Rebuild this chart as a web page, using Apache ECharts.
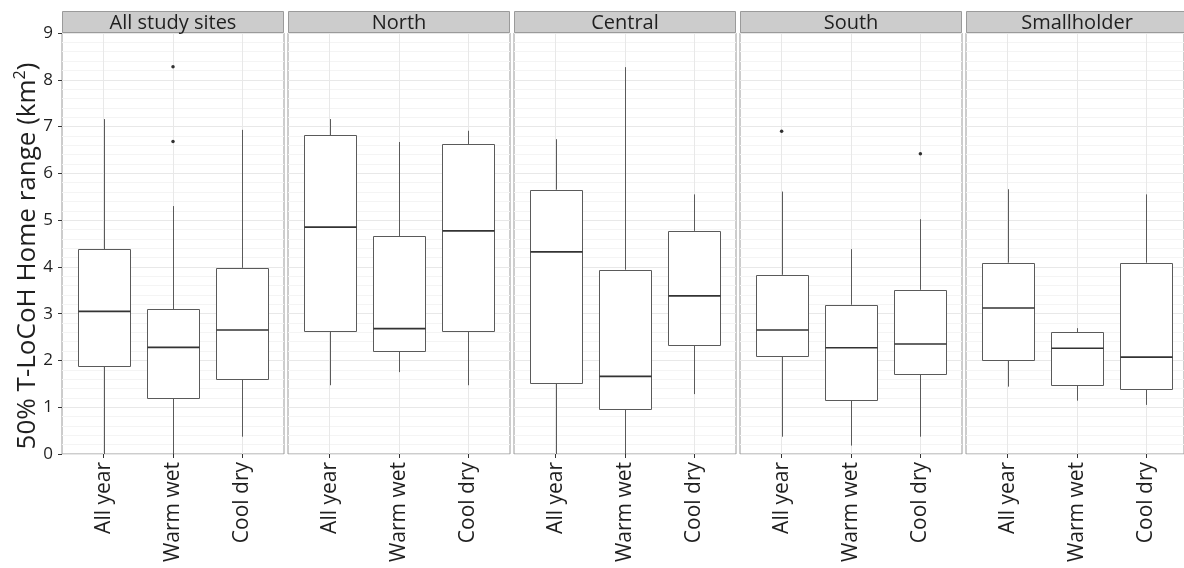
<!DOCTYPE html>
<html>
<head>
<meta charset="utf-8">
<script src="https://cdn.jsdelivr.net/npm/echarts@6/dist/echarts.min.js"></script>
<style>
  html, body { margin: 0; padding: 0; background: #fff; }
  #chart { width: 1184px; height: 568px; }
</style>
</head>
<body>
<div id="chart"></div>
<script>
// Seasons on the x axis of every panel and the study areas (one panel each)
const seasons = ['All year', 'Warm wet', 'Cool dry'];
const sites = ['All study sites', 'North', 'Central', 'South', 'Smallholder'];

// Box statistics per season: [lower whisker, Q1, median, Q3, upper whisker] (km²)
const allSites    = [[0.00, 1.88, 3.05, 4.38, 7.16], [0.00, 1.19, 2.28, 3.10, 5.30], [0.37, 1.60, 2.65, 3.98, 6.93]];
const north       = [[1.47, 2.62, 4.85, 6.81, 7.16], [1.75, 2.20, 2.68, 4.65, 6.67], [1.47, 2.62, 4.77, 6.62, 6.91]];
const central     = [[0.00, 1.51, 4.32, 5.65, 6.73], [0.00, 0.96, 1.66, 3.94, 8.27], [1.28, 2.32, 3.38, 4.77, 5.55]];
const south       = [[0.37, 2.09, 2.65, 3.83, 5.61], [0.18, 1.15, 2.27, 3.19, 4.38], [0.37, 1.71, 2.35, 3.51, 5.02]];
const smallholder = [[1.44, 2.00, 3.12, 4.09, 5.66], [1.14, 1.47, 2.26, 2.60, 2.69], [1.05, 1.38, 2.07, 4.09, 5.55]];

// Outlying home ranges: [season index, value]
const allSitesOutliers    = [[1, 8.28], [1, 6.68]];
const northOutliers       = [];
const centralOutliers     = [];
const southOutliers       = [[0, 6.90], [2, 6.42]];
const smallholderOutliers = [];

const yMin = 0, yMax = 9, yStep = 1;

const boxStats = [allSites, north, central, south, smallholder];
const outliers = [allSitesOutliers, northOutliers, centralOutliers, southOutliers, smallholderOutliers];

// Panel geometry (pixels)
const FONT = '"Open Sans", "Noto Sans", sans-serif';
const TEXT = '#1f1f1f';
const PANEL_LEFT = 62, PANEL_STEP = 226, PANEL_W = 222;
const PANEL_TOP = 33, PANEL_H = 421;
const STRIP_TOP = 11, STRIP_H = 22;
const UNIT = PANEL_W / 3.2;            // one category step, with 0.6 step padding each side

const grids = [], xAxes = [], yAxes = [], series = [], graphics = [];

function renderBox(params, api) {
  const x = api.value(0);
  const lo = api.coord([x, api.value(1)]);
  const q1 = api.coord([x, api.value(2)]);
  const md = api.coord([x, api.value(3)]);
  const q3 = api.coord([x, api.value(4)]);
  const hi = api.coord([x, api.value(5)]);
  const w = api.size([1, 0])[0] * 0.75;
  const cx = Math.round(lo[0]) + 0.5;
  const left = Math.round(cx - w / 2) + 0.5;
  const right = Math.round(cx + w / 2) - 0.5;
  const line = '#5a5a5a';
  return {
    type: 'group',
    children: [
      { type: 'line', shape: { x1: cx, y1: hi[1], x2: cx, y2: q3[1] }, style: { stroke: line, lineWidth: 1 } },
      { type: 'line', shape: { x1: cx, y1: q1[1], x2: cx, y2: lo[1] }, style: { stroke: line, lineWidth: 1 } },
      { type: 'rect', shape: { x: left, y: Math.round(q3[1]) + 0.5, width: right - left, height: Math.round(q1[1]) - Math.round(q3[1]) },
        style: { fill: '#fff', stroke: line, lineWidth: 1 } },
      { type: 'line', shape: { x1: left, y1: md[1], x2: right, y2: md[1] }, style: { stroke: '#333', lineWidth: 1.6 } }
    ]
  };
}

sites.forEach((site, i) => {
  const left = PANEL_LEFT + i * PANEL_STEP;
  const bg = 2 * i, dg = 2 * i + 1;

  // Panel frame with the horizontal grid lines
  grids.push({ left: left, top: PANEL_TOP, width: PANEL_W, height: PANEL_H, show: true,
               borderColor: '#9a9a9a', borderWidth: 1, backgroundColor: '#fff', z: 0 });
  xAxes.push({ gridIndex: bg, type: 'value', min: 0, max: 1, show: false });
  yAxes.push({
    gridIndex: bg, type: 'value', min: yMin, max: yMax, interval: yStep,
    axisLine: { show: false },
    axisTick: { show: i === 0, length: 4, lineStyle: { color: '#333' } },
    axisLabel: { show: i === 0, fontSize: 17, fontFamily: FONT, color: TEXT, margin: 9 },
    splitLine: { show: true, lineStyle: { color: '#e8e8e8', width: 1 } },
    minorTick: { show: false, splitNumber: 5 },
    minorSplitLine: { show: true, lineStyle: { color: '#f4f4f4', width: 1 } }
  });

  // Season axis, spanning the category centres
  grids.push({ left: left + 0.6 * UNIT, top: PANEL_TOP, width: 2 * UNIT, height: PANEL_H, show: false, z: 1 });
  xAxes.push({
    gridIndex: dg, type: 'category', data: seasons, boundaryGap: false,
    axisLine: { show: false },
    axisTick: { show: true, length: 4, lineStyle: { color: '#333' } },
    axisLabel: { rotate: 90, fontSize: 21, fontFamily: FONT, color: TEXT, margin: 8, interval: 0 },
    splitLine: { show: true, lineStyle: { color: '#e8e8e8', width: 1 } }
  });
  yAxes.push({ gridIndex: dg, type: 'value', min: yMin, max: yMax, show: false });

  series.push({
    type: 'custom', xAxisIndex: dg, yAxisIndex: dg, clip: false, z: 3,
    renderItem: renderBox,
    encode: { x: 0, y: [1, 2, 3, 4, 5] },
    data: boxStats[i].map((s, k) => [k].concat(s))
  });
  series.push({
    type: 'scatter', xAxisIndex: dg, yAxisIndex: dg, z: 4,
    symbolSize: 3.5, itemStyle: { color: '#000' },
    data: outliers[i]
  });

  // Strip with the panel name
  graphics.push({
    type: 'rect', z: 10,
    shape: { x: left + 0.5, y: STRIP_TOP + 0.5, width: PANEL_W - 1, height: STRIP_H - 1 },
    style: { fill: '#cccccc', stroke: '#9a9a9a', lineWidth: 1 }
  });
  graphics.push({
    type: 'text', z: 11, x: left + PANEL_W / 2, y: STRIP_TOP + STRIP_H / 2 + 1,
    style: { text: site, fontSize: 20, fontFamily: FONT, fill: TEXT, align: 'center', verticalAlign: 'middle' }
  });
});

// Y axis title
graphics.push({
  type: 'text', z: 11, x: 28, y: 256, rotation: Math.PI / 2,
  style: {
    text: '50% T-LoCoH Home range (km{sup|2})',
    fontSize: 26, fontFamily: FONT, fill: TEXT, align: 'center', verticalAlign: 'middle',
    rich: { sup: { fontSize: 16, fontFamily: FONT, fill: TEXT, verticalAlign: 'top', lineHeight: 31 } }
  }
});

const chart = echarts.init(document.getElementById('chart'), null, { renderer: 'canvas' });
chart.setOption({
  animation: false,
  backgroundColor: '#fff',
  grid: grids,
  xAxis: xAxes,
  yAxis: yAxes,
  series: series,
  graphic: graphics
});
</script>
</body>
</html>
